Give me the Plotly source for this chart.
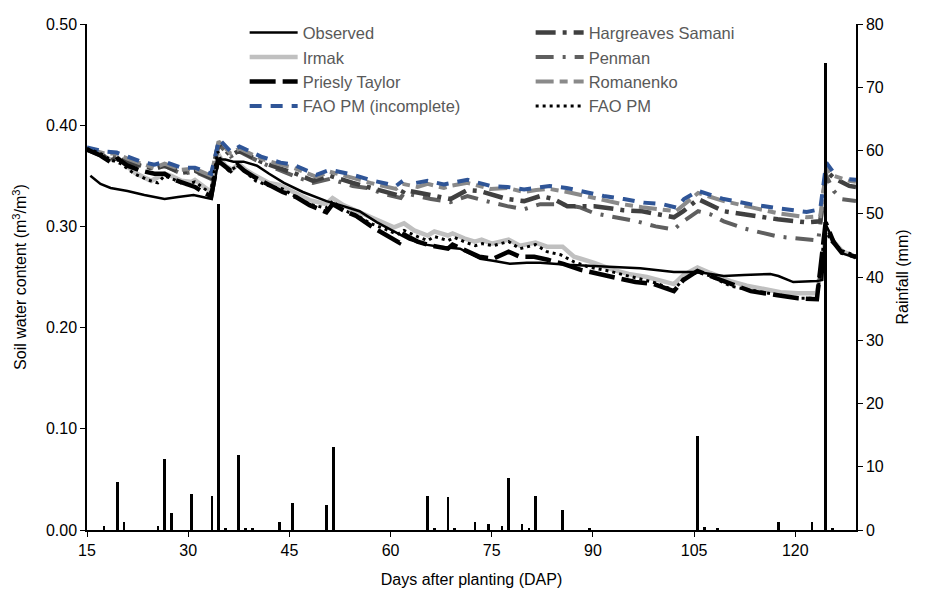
import plotly.graph_objects as go

# ---------------- data ----------------
RAIN_DAYS = [17, 19, 20, 25, 26, 27, 30, 33, 34, 35, 37, 38, 39, 43, 45, 50, 51,
             65, 66, 68, 69, 72, 74, 76, 77, 79, 80, 81, 85, 89, 105, 106, 108,
             117, 122, 124, 125]
RAIN_MM = [0.6, 7.6, 1.2, 0.7, 11.2, 2.7, 5.7, 5.4, 51.5, 0.3, 11.8, 0.3, 0.3, 1.3, 4.3, 4.0, 13.2,
           5.4, 0.3, 5.2, 0.3, 1.2, 1.0, 0.7, 8.2, 1.0, 0.3, 5.4, 3.2, 0.2, 14.8, 0.4, 0.2,
           1.3, 1.2, 73.8, 0.3]

OBSERVED = [(15.5, 0.350), (17, 0.342), (18.5, 0.338), (21, 0.335), (23.5, 0.331), (26.5, 0.327),
            (28.5, 0.329), (30.8, 0.331), (33.5, 0.327), (34.5, 0.366), (35.5, 0.366), (36.7, 0.364),
            (38.2, 0.364), (40.2, 0.360), (42, 0.352), (44.2, 0.343), (47, 0.334), (50.5, 0.325),
            (53, 0.320), (55.4, 0.315), (58, 0.304), (60.3, 0.296), (62.8, 0.287), (65.2, 0.282),
            (67.3, 0.280), (70.3, 0.278), (73.3, 0.268), (75.2, 0.266), (77.7, 0.263), (80.2, 0.264),
            (82.2, 0.264), (86.2, 0.262), (92, 0.260), (97, 0.2586), (102, 0.255), (105, 0.255),
            (106.5, 0.254), (109.4, 0.251), (112.4, 0.252), (116.3, 0.253), (117.5, 0.251),
            (119.7, 0.245), (123.2, 0.246), (124, 0.247), (124.5, 0.302), (125.6, 0.287),
            (127.1, 0.273), (129, 0.269)]

IRMAK = [(15, 0.376), (17, 0.371), (18.5, 0.366), (19.5, 0.368), (20.5, 0.362), (22.1, 0.353),
         (24.5, 0.345), (26.5, 0.352), (27.5, 0.350), (29, 0.345), (30.5, 0.344), (31, 0.346),
         (33.4, 0.334), (34.4, 0.372), (35.5, 0.360), (36.5, 0.356), (37.5, 0.362), (38.5, 0.356),
         (40, 0.350), (42, 0.343), (43.5, 0.341), (45.5, 0.334), (48, 0.326), (50.4, 0.322),
         (51.4, 0.328), (53, 0.321), (55.4, 0.314), (58, 0.306), (60.5, 0.299), (62, 0.303),
         (63.5, 0.296), (65.5, 0.291), (66.5, 0.295), (68.5, 0.291), (69.2, 0.293), (71, 0.288),
         (72.5, 0.285), (73.5, 0.287), (75, 0.283), (77.5, 0.287), (79.2, 0.281), (81.5, 0.284),
         (83.2, 0.280), (85.5, 0.280), (87.2, 0.270), (88.2, 0.268), (90.2, 0.264), (93, 0.257),
         (95.3, 0.253), (98, 0.250), (100.3, 0.246), (102, 0.243), (103.4, 0.252), (105.5, 0.2595),
         (107.4, 0.254), (110.4, 0.246), (112.8, 0.2415), (115.4, 0.238), (117.8, 0.235),
         (120.4, 0.234), (123.2, 0.234), (123.9, 0.262), (124.6, 0.296), (125.7, 0.285),
         (126.9, 0.276), (129, 0.269)]

PRIESLY_TAYLOR = [(15, 0.376), (17, 0.370), (18.6, 0.363), (19.6, 0.367), (21, 0.360), (23, 0.355),
                  (25, 0.352), (26.5, 0.352), (28, 0.346), (31, 0.339), (32.4, 0.333), (33.4, 0.330),
                  (34.4, 0.365), (35, 0.362), (36.3, 0.355), (37.3, 0.361), (38.3, 0.355), (40, 0.348),
                  (42, 0.341), (44, 0.334), (46, 0.329), (48, 0.321), (50.5, 0.314), (51.4, 0.322),
                  (53, 0.316), (55, 0.310), (57.4, 0.299), (60, 0.289), (61.3, 0.284), (62, 0.292),
                  (64, 0.285), (66, 0.281), (68.5, 0.278), (69.2, 0.282), (71.2, 0.276), (73.2, 0.270),
                  (75.2, 0.268), (77.5, 0.275), (79.2, 0.270), (81.3, 0.270), (83.3, 0.267),
                  (85.6, 0.263), (88.2, 0.257), (90.2, 0.254), (94, 0.248), (96.3, 0.245), (99, 0.243),
                  (100.4, 0.240), (102, 0.236), (103.4, 0.247), (105.5, 0.256), (107.4, 0.251),
                  (110.4, 0.243), (113.4, 0.236), (117.4, 0.232), (120.4, 0.229), (123.2, 0.228),
                  (124.5, 0.304), (125.7, 0.284), (126.9, 0.274), (129, 0.270)]

FAO_PM = [(15, 0.377), (17, 0.372), (18.5, 0.366), (20, 0.362), (22, 0.352), (24, 0.346), (25.5, 0.343),
          (26.5, 0.350), (28, 0.346), (29.5, 0.341), (31, 0.344), (33.3, 0.333), (34.4, 0.374),
          (35, 0.362), (36, 0.355), (37.5, 0.360), (39, 0.351), (40, 0.345), (42, 0.340), (44, 0.337),
          (46, 0.329), (48, 0.322), (50.4, 0.318), (51.4, 0.325), (53, 0.316), (55, 0.311), (57, 0.303),
          (59, 0.298), (61, 0.292), (62, 0.296), (64, 0.290), (65.5, 0.286), (66.5, 0.290),
          (68.5, 0.286), (69.5, 0.289), (71.2, 0.284), (72.6, 0.281), (73.6, 0.283), (75.2, 0.281),
          (77.5, 0.285), (79.2, 0.278), (81.5, 0.282), (83.2, 0.275), (85.2, 0.272), (87.2, 0.265),
          (89.3, 0.260), (92.3, 0.256), (95.3, 0.251), (97.3, 0.247), (99.4, 0.244), (102, 0.237),
          (103.4, 0.248), (105.5, 0.255), (107.4, 0.251), (110.4, 0.241), (113.4, 0.237),
          (117.8, 0.232), (120.4, 0.229), (123.2, 0.229), (123.8, 0.260), (124.4, 0.297),
          (125.4, 0.285), (126.9, 0.276), (129, 0.271)]

FAO_PM_INCOMPLETE = [(15, 0.378), (17.6, 0.374), (19.4, 0.373), (21.1, 0.369), (23, 0.364), (25, 0.361),
                     (26.5, 0.364), (29, 0.358), (31, 0.358), (33.4, 0.352), (34.6, 0.386), (36.3, 0.374),
                     (37.6, 0.379), (40.8, 0.369), (43.7, 0.363), (45.6, 0.361), (49, 0.351), (51, 0.356),
                     (54.4, 0.351), (56.9, 0.346), (60.8, 0.340), (61.8, 0.345), (62.8, None),
                     (63.8, 0.343), (65.5, 0.345), (67.9, 0.3415), (68.9, 0.343), (71.4, 0.346),
                     (74.8, 0.340), (77.3, 0.339), (79.8, 0.3366), (81.6, 0.338), (83.6, 0.340),
                     (86.1, 0.338), (91.6, 0.330), (94.6, 0.327), (97.5, 0.3235), (100.3, 0.322),
                     (102.4, 0.3186), (103.5, 0.327), (105.6, 0.335), (109.4, 0.327), (113.3, 0.322),
                     (117.8, 0.3176), (121.7, 0.3143), (123.7, 0.317), (124.6, 0.363), (125.7, 0.353),
                     (126.6, None), (128, 0.3465), (129, 0.346)]

ROMANENKO = [(15, 0.377), (17.6, 0.372), (19.4, 0.372), (21, 0.367), (23, 0.362), (25, 0.358),
             (26.5, 0.362), (29, 0.356), (31, 0.357), (33.4, 0.350), (34.5, 0.384), (36.3, 0.372),
             (37.6, 0.377), (40.8, 0.367), (43.7, 0.361), (45.6, 0.358), (49, 0.349), (51, 0.354),
             (54.4, 0.348), (57, 0.343), (60.8, 0.337), (61.8, 0.342), (64, 0.339), (65.5, 0.342),
             (67.9, 0.338), (68.9, 0.340), (71.4, 0.343), (74.8, 0.337), (77.3, 0.338), (79.8, 0.334),
             (81.6, 0.336), (83.6, 0.337), (86.2, 0.334), (91.3, 0.326), (94.3, 0.322), (97.3, 0.319),
             (100.3, 0.317), (102.3, 0.315), (105.6, 0.333), (109.4, 0.325), (113.4, 0.319),
             (117.4, 0.313), (121.7, 0.309), (123.7, 0.310), (124.6, 0.358), (125.7, 0.350),
             (128, 0.345), (129, 0.344)]

HARGREAVES = [(15, 0.376), (17.6, 0.369), (18.6, 0.365), (19.5, 0.368), (21, 0.363), (23, 0.360),
              (25, 0.357), (26.5, 0.360), (29, 0.353), (31, 0.355), (33.4, 0.348), (34.5, 0.382),
              (36.3, 0.370), (37.6, 0.375), (40.8, 0.364), (43.7, 0.357), (45.6, 0.353), (48.5, 0.345),
              (51, 0.350), (54.4, 0.343), (57.3, 0.338), (61.5, 0.330), (62, 0.336), (64, 0.334),
              (66, 0.331), (68.9, 0.327), (71.4, 0.336), (73.2, 0.335), (77.3, 0.327), (79.8, 0.325),
              (82.2, 0.330), (84.2, 0.327), (86.2, 0.320), (90.2, 0.320), (94.5, 0.316), (97.3, 0.315),
              (102, 0.309), (103.4, 0.315), (105.6, 0.327), (109.4, 0.315), (113.4, 0.311),
              (117.4, 0.307), (121.7, 0.304), (123.7, 0.305), (124.6, 0.355), (125.7, 0.348),
              (128, 0.340), (129, 0.339)]

PENMAN = [(15, 0.376), (17.6, 0.370), (19.5, 0.369), (21, 0.365), (23, 0.360), (25, 0.357),
          (26.5, 0.360), (29, 0.352), (31, 0.354), (33.4, 0.347), (34.5, 0.381), (36.3, 0.369),
          (37.6, 0.374), (40.8, 0.363), (43.7, 0.355), (45.6, 0.350), (48.5, 0.343), (51, 0.347),
          (54.4, 0.340), (56.5, 0.338), (59, 0.332), (61.5, 0.328), (62, 0.333), (64, 0.330),
          (66, 0.327), (68.9, 0.324), (71.4, 0.330), (74.2, 0.325), (77.3, 0.320), (79.8, 0.317),
          (82.2, 0.322), (85.2, 0.322), (88, 0.319), (90.2, 0.313), (94.5, 0.308), (96.5, 0.305),
          (99.3, 0.300), (102, 0.297), (103.4, 0.305), (105.6, 0.315), (107.4, 0.312), (109.4, 0.305),
          (112.4, 0.298), (114.4, 0.295), (117.4, 0.290), (120.4, 0.288), (123.4, 0.286),
          (124.6, 0.350), (125.7, 0.335), (126.9, 0.327), (129, 0.325)]

X_TICKS = [15, 30, 45, 60, 75, 90, 105, 120]
Y_TICKS = [0.0, 0.1, 0.2, 0.3, 0.4, 0.5]
Y2_TICKS = [0, 10, 20, 30, 40, 50, 60, 70, 80]

# ---------------- figure ----------------
FONT = "Liberation Sans, Arial, sans-serif"
BAR_CENTER = 0.5  # bars sit in the middle of each day


def xy(pairs):
    return [p[0] for p in pairs], [p[1] for p in pairs]


fig = go.Figure()

# drawing order (bottom -> top); legend order via legendrank
series = [
    ("Irmak", IRMAK, dict(color="#c0c0c0", width=4.5), 3),
    ("Penman", PENMAN, dict(color="#5f5f5f", width=4, dash="18px,9px,3px,9px"), 4),
    ("Hargreaves Samani", HARGREAVES, dict(color="#404040", width=4.5, dash="20px,7px,4px,7px"), 2),
    ("Romanenko", ROMANENKO, dict(color="#8a8a8a", width=4, dash="18px,6px,8px,6px"), 6),
    ("FAO PM (incomplete)", FAO_PM_INCOMPLETE, dict(color="#2f5597", width=4, dash="12px,9px"), 7),
    ("Observed", OBSERVED, dict(color="#000000", width=2.5), 1),
    ("Priesly Taylor", PRIESLY_TAYLOR, dict(color="#000000", width=4.5, dash="26px,7px"), 5),
    ("FAO PM", FAO_PM, dict(color="#000000", width=3, dash="3px,4px"), 8),
]
for name, data, line, rank in series:
    xs, ys = xy(data)
    fig.add_trace(go.Scatter(x=xs, y=ys, mode="lines", name=name, line=line,
                             legendrank=rank, connectgaps=False))

fig.add_trace(go.Bar(x=[d + BAR_CENTER for d in RAIN_DAYS], y=RAIN_MM, yaxis="y2",
                     width=0.38, marker=dict(color="#000000", line=dict(width=0)),
                     showlegend=False, name="Rainfall"))

axis_common = dict(showline=True, linecolor="#000000", linewidth=1.5, ticks="outside",
                   ticklen=5, tickcolor="#000000", tickwidth=1.2, showgrid=False, zeroline=False,
                   tickfont=dict(family=FONT, size=16, color="#000000"),
                   title_font=dict(family=FONT, size=16, color="#000000"))

fig.update_layout(
    width=928, height=598,
    margin=dict(l=87, r=72, t=24, b=66),
    paper_bgcolor="white", plot_bgcolor="white",
    font=dict(family=FONT, size=16, color="#000000"),
    bargap=0,
    xaxis=dict(range=[15, 129], tickvals=X_TICKS, title_text="Days after planting (DAP)",
               title_standoff=16, **axis_common),
    yaxis=dict(range=[0, 0.5], tickvals=Y_TICKS, tickformat=".2f",
               title_text="Soil water content (m<sup>3</sup>/m<sup>3</sup>)", **axis_common),
    yaxis2=dict(range=[0, 80], tickvals=Y2_TICKS, overlaying="y", side="right",
                title_text="Rainfall (mm)", title_standoff=14, **axis_common),
    legend=dict(orientation="h", x=0.205, y=1.017, xanchor="left", yanchor="top",
                bgcolor="rgba(0,0,0,0)", entrywidth=223, itemwidth=48,
                font=dict(family=FONT, size=16.5, color="#595959"), tracegroupgap=0),
    showlegend=True,
)

fig.write_html("out.html")
